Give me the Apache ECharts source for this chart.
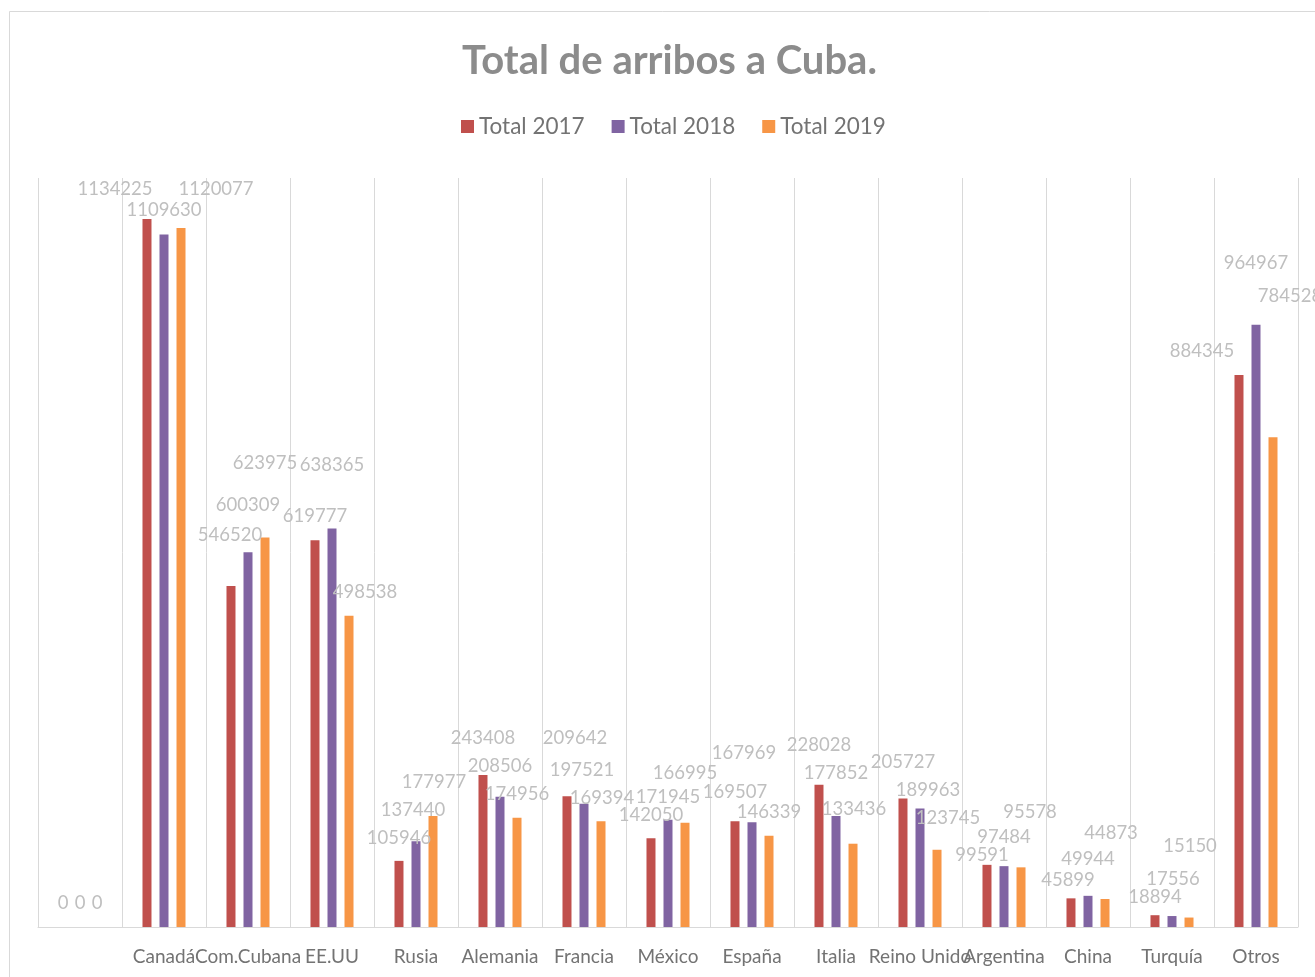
<!DOCTYPE html>
<html>
<head>
<meta charset="utf-8">
<script src="https://cdn.jsdelivr.net/npm/echarts@6/dist/echarts.min.js"></script>
<style>html,body{margin:0;padding:0;background:#fff;}#c{width:1315px;height:977px;}</style>
</head>
<body>
<div id="c"></div>
<script>
// ---- Data ----
const categories = ['', 'Canadá', 'Com.Cubana', 'EE.UU', 'Rusia', 'Alemania', 'Francia', 'México', 'España', 'Italia', 'Reino Unido', 'Argentina', 'China', 'Turquía', 'Otros'];
const seriesNames = ['Total 2017', 'Total 2018', 'Total 2019'];
const total2017 = [0, 1134225, 546520, 619777, 105946, 243408, 209642, 142050, 169507, 228028, 205727, 99591, 45899, 18894, 884345];
const total2018 = [0, 1109630, 600309, 638365, 137440, 208506, 197521, 171945, 167969, 177852, 189963, 97484, 49944, 17556, 964967];
const total2019 = [0, 1120077, 623975, 498538, 177977, 174956, 169394, 166995, 146339, 133436, 123745, 95578, 44873, 15150, 784528];

// ---- Layout: hand-placed data-label nudges [dx, dy] (px) as in the original ----
const nudge2017 = [[0,-24],[-32,-30],[-1,-51],[0,-24],[0,-23],[0,-37],[8,-58],[0,-23],[0,-29],[0,-40],[0,-37],[-5,-10],[-3,-18],[0,-18],[-37,-24]];
const nudge2018 = [[0,-24],[0,-24],[0,-47],[0,-64],[-3,-31],[0,-31],[-2,-34],[0,-23],[-8,-69],[0,-43],[8,-18],[0,-29],[0,-37],[1,-37],[0,-62]];
const nudge2019 = [[0,-24],[35,-39],[0,-75],[16,-24],[1,-34],[0,-24],[1,-23],[0,-50],[0,-24],[1,-35],[11,-32],[9,-55],[6,-66],[1,-72],[17,-141]];

const colors = ['#c0504d', '#8064a2', '#f79646'];
const FONT = 'Lato, "Open Sans", sans-serif';

function buildSeries(name, values, nudges, color) {
  return {
    name: name,
    type: 'bar',
    barWidth: 9,
    barGap: '89%',
    itemStyle: { color: color },
    data: values.map((v, i) => ({
      value: v,
      label: { offset: nudges[i] }
    })),
    label: {
      show: true,
      position: 'top',
      distance: 0,
      verticalAlign: 'middle',
      align: 'center',
      color: '#bfbfbf',
      fontSize: 18.5,
      fontFamily: FONT
    }
  };
}

const chart = echarts.init(document.getElementById('c'), null, { renderer: 'canvas' });
chart.setOption({
  animation: false,
  backgroundColor: '#ffffff',
  graphic: [{
    type: 'rect',
    shape: { x: 9.5, y: 11.5, width: 1400, height: 1100 },
    style: { fill: 'none', stroke: '#d9d9d9', lineWidth: 1 },
    silent: true,
    z: -1
  }],
  title: {
    text: 'Total de arribos a Cuba.',
    left: 457,
    top: 36,
    textStyle: { fontFamily: FONT, fontWeight: 'bold', fontSize: 40, color: '#8c8c8c' }
  },
  legend: {
    data: seriesNames,
    left: 456,
    top: 110,
    icon: 'rect',
    itemWidth: 13,
    itemHeight: 13,
    itemGap: 27,
    textStyle: { fontFamily: FONT, fontSize: 22.5, color: '#737373', padding: [0, 0, 0, 0] }
  },
  grid: { left: 38, right: 17, top: 178, bottom: 50, containLabel: false },
  xAxis: {
    type: 'category',
    data: categories,
    boundaryGap: true,
    axisLine: { show: true, lineStyle: { color: '#d9d9d9', width: 1 } },
    axisTick: { show: false },
    axisLabel: { interval: 0, margin: 20, fontFamily: FONT, fontSize: 19, color: '#737373' },
    splitLine: { show: true, interval: 0, lineStyle: { color: '#d9d9d9', width: 1 } }
  },
  yAxis: {
    type: 'value',
    min: 0,
    max: 1200000,
    show: false,
    splitLine: { show: false }
  },
  series: [
    buildSeries(seriesNames[0], total2017, nudge2017, colors[0]),
    buildSeries(seriesNames[1], total2018, nudge2018, colors[1]),
    buildSeries(seriesNames[2], total2019, nudge2019, colors[2])
  ]
});
</script>
</body>
</html>
